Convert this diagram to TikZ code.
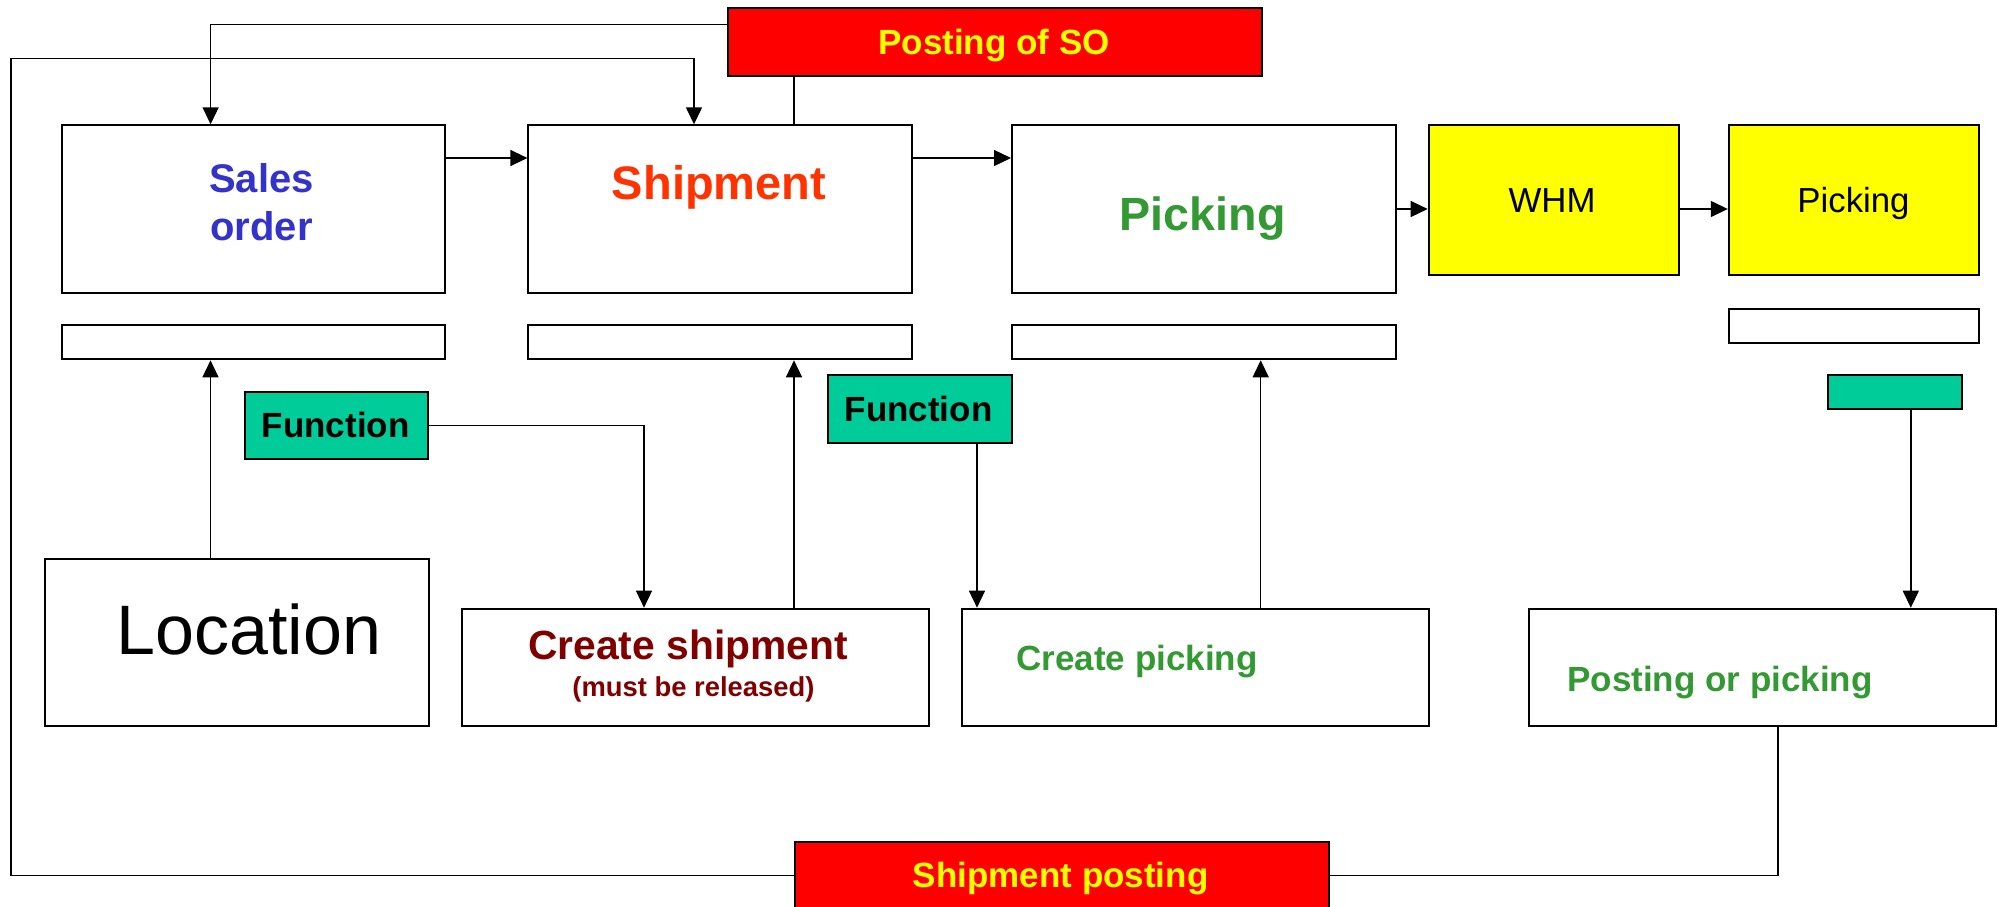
\documentclass[tikz,border=0pt]{standalone}
\usepackage{fontspec}
\setmainfont{Liberation Sans}
\usetikzlibrary{arrows.meta,calc}
\definecolor{soblue}{HTML}{3333CC}
\definecolor{shred}{HTML}{FF3300}
\definecolor{pkgreen}{HTML}{339933}
\definecolor{csred}{HTML}{800000}
\definecolor{fgreen}{HTML}{00CC99}
\definecolor{ylw}{HTML}{FFFF00}
\definecolor{rd}{HTML}{FF0000}
\newcommand{\fs}[1]{\fontsize{#1}{1.2\dimexpr #1\relax}\selectfont}
\begin{document}
\begin{tikzpicture}[x=0.5pt,y=-0.5pt,
  box/.style={draw=black, line width=1pt, fill=white, rectangle, inner sep=0pt, anchor=north west},
  redbox/.style={box, fill=rd},
  ybox/.style={box, fill=ylw},
  gbox/.style={box, fill=fgreen},
  lbl/.style={inner sep=0pt, anchor=base, font=\bfseries\fs{17.5pt}},
  conn/.style={line width=0.7pt},
  arr/.style={conn, -{Triangle[length=8.5pt,width=8pt]}}]
\fill[white] (0,0) rectangle (1999,906);
\useasboundingbox (0,0) rectangle (1999,906);
% boxes
\node[redbox, minimum width=267pt, minimum height=33.85pt] (pso) at (727,7.3) {};
\node[box, minimum width=191.8pt, minimum height=83.7pt] (so) at (60.6,124.3) {};
\node[box, minimum width=191.8pt, minimum height=83.7pt] (sh) at (527.4,124.3) {};
\node[box, minimum width=191.8pt, minimum height=83.7pt] (pk) at (1011,124.3) {};
\node[ybox, minimum width=124.9pt, minimum height=75pt] (whm) at (1427.7,124.3) {};
\node[ybox, minimum width=124.95pt, minimum height=75pt] (pk2) at (1727.8,124.3) {};
\node[box, minimum width=191.8pt, minimum height=17pt] (sos) at (60.6,324.3) {};
\node[box, minimum width=191.8pt, minimum height=17pt] (shs) at (527.4,324.3) {};
\node[box, minimum width=191.8pt, minimum height=17pt] (pks) at (1011,324.3) {};
\node[box, minimum width=124.95pt, minimum height=17pt] (pk2s) at (1727.8,307.7) {};
\node[gbox, minimum width=91.5pt, minimum height=33.8pt] (f1) at (244,390.7) {};
\node[gbox, minimum width=92pt, minimum height=33.7pt] (f2) at (827,374.3) {};
\node[gbox, minimum width=67pt, minimum height=17pt] (f3) at (1827,374.3) {};
\node[box, minimum width=192pt, minimum height=83.65pt] (loc) at (44,557.7) {};
\node[box, minimum width=233.75pt, minimum height=58.65pt] (cs) at (460.5,607.7) {};
\node[box, minimum width=233.35pt, minimum height=58.65pt] (cp) at (961,607.7) {};
\node[box, minimum width=233.65pt, minimum height=58.65pt] (pp) at (1527.7,607.7) {};
\node[redbox, minimum width=267pt, minimum height=33.65pt] (sp) at (794,840.7) {};
% labels
\node[lbl, text=ylw] (tpso) at (994,54) {Posting of SO};
\node[lbl, text=soblue, font=\bfseries\fs{20pt}] (tso1) at (261.5,192.3) {Sales};
\node[lbl, text=soblue, font=\bfseries\fs{20pt}] (tso2) at (261.5,240.7) {order};
\node[lbl, text=shred, font=\bfseries\fs{23.5pt}] (tsh) at (719,199) {Shipment};
\node[lbl, text=pkgreen, font=\bfseries\fs{23.3pt}] (tpk) at (1202.6,230.7) {Picking};
\node[lbl, font=\fs{17.4pt}] (twhm) at (1552,212.7) {WHM};
\node[lbl, font=\fs{17.4pt}] (tpk2) at (1853.5,212.7) {Picking};
\node[lbl] (tf1) at (335.6,437.3) {Function};
\node[lbl] (tf2) at (918.5,421.7) {Function};
\node[lbl, font=\fs{35pt}] (tloc) at (248.8,654) {Location};
\node[lbl, text=csred, font=\bfseries\fs{20.4pt}] (tcs1) at (688,659) {Create shipment};
\node[lbl, text=csred, font=\bfseries\fs{13.7pt}] (tcs2) at (693.5,696.7) {(must be released)};
\node[lbl, text=pkgreen, anchor=base west] (tcp) at (1016,670) {Create picking};
\node[lbl, text=pkgreen, anchor=base west] (tpp) at (1567,691.7) {Posting or picking};
\node[lbl, text=ylw] (tsp) at (1060.7,887.3) {Shipment posting};
% connectors
\coordinate (lc) at (10.8,58.3);
\draw[arr] ($(pso.north west)+(0,17)$) -| ($(so.north west)+(150,0)$);
\draw[arr] (sp.west) -| (lc) -| ($(sh.north west)+(166.6,0)$);
\draw[conn] ($(sh.north west)+(266.6,0)$) coordinate (ca) -- (ca |- pso.south);
\draw[arr] ($(so.north east)+(0,33.7)$) -- ($(sh.north west)+(0,33.7)$);
\draw[arr] ($(sh.north east)+(0,33.7)$) -- ($(pk.north west)+(0,33.7)$);
\draw[arr] (pk.east) -- (pk.east -| whm.west);
\draw[arr] (pk.east -| whm.east) -- (pk.east -| pk2.west);
\draw[arr] ($(loc.north west)+(166.5,0)$) coordinate (cb) -- (cb |- sos.south);
\draw[arr] (f1.east) -| ($(cs.north west)+(183.5,0)$);
\draw[arr] ($(cs.north west)+(333.5,0)$) coordinate (cc) -- (cc |- shs.south);
\draw[arr] ($(f2.south west)+(150,0)$) coordinate (cd) -- (cd |- cp.north);
\draw[arr] ($(cp.north west)+(299.7,0)$) coordinate (ce) -- (ce |- pks.south);
\draw[arr] ($(f3.south west)+(83.8,0)$) coordinate (cf) -- (cf |- pp.north);
\draw[conn] ($(pp.south west)+(250.3,0)$) coordinate (cg) |- (sp.east);
\end{tikzpicture}
\end{document}
